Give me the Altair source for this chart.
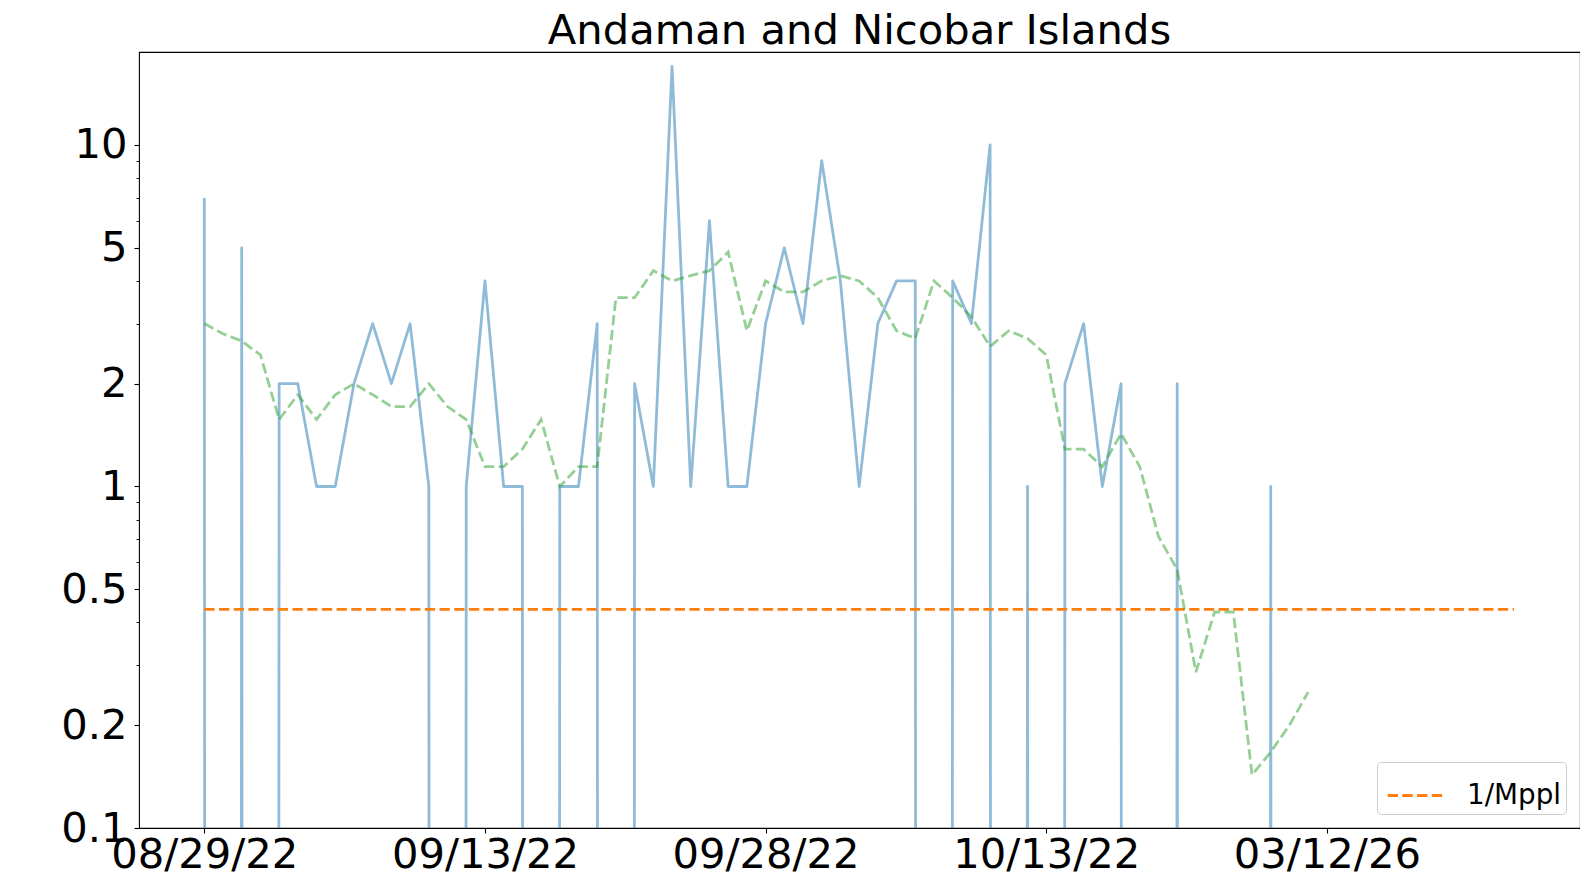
import altair as alt
import pandas as pd

# ---- data ----
day_index = list(range(60))
daily_cases = [7, 0, 5, 0, 2, 2, 1, 1, 2, 3,
               2, 3, 1, 0, 1, 4, 1, 1, 0, 1,
               1, 3, 0, 2, 1, 17, 1, 6, 1, 1,
               3, 5, 3, 9, 4, 1, 3, 4, 4, 0,
               4, 3, 10, 0, 1, 0, 2, 3, 1, 2,
               0, 0, 2, 0, 0, 0, 0, 1, 0, 0]
rolling_avg = [3.0, 2.8, 2.667, 2.429, 1.571, 1.857, 1.571, 1.857, 2.0, 1.857,
               1.714, 1.714, 2.0, 1.714, 1.571, 1.143, 1.143, 1.286, 1.571, 1.0,
               1.143, 1.143, 3.571, 3.571, 4.286, 4.0, 4.143, 4.286, 4.857, 2.857,
               4.0, 3.714, 3.714, 4.0, 4.143, 4.0, 3.571, 2.857, 2.714, 4.0,
               3.571, 3.143, 2.571, 2.857, 2.714, 2.429, 1.286, 1.286, 1.143, 1.429,
               1.143, 0.714, 0.571, 0.286, 0.429, 0.429, 0.143, 0.167, 0.2, 0.25]
threshold_days = [0, 70]
threshold_value = [0.437, 0.437]
threshold_label = ["1/Mppl", "1/Mppl"]

x_tick_days = [0, 15, 30, 45, 60]
x_tick_labels = ["08/29/22", "09/13/22", "09/28/22", "10/13/22", "03/12/26"]
y_major = [0.1, 0.2, 0.5, 1, 2, 5, 10]
y_minor = [0.3, 0.4, 0.6, 0.7, 0.8, 0.9, 3, 4, 6, 7, 8, 9]

df_daily = pd.DataFrame({"day": day_index, "cases": daily_cases})
df_avg = pd.DataFrame({"day": day_index, "avg": rolling_avg})
df_thr = pd.DataFrame({"day": threshold_days, "val": threshold_value, "label": threshold_label})

FONT = "DejaVu Sans"
LW = 2.78
DASH = [10.3, 4.4]

xscale = alt.Scale(domain=[-3.49, 73.53], nice=False, zero=False)
yscale = alt.Scale(type="log", domain=[0.1, 18.72], nice=False)

label_arr = "[" + ",".join("'%s'" % s for s in x_tick_labels) + "]"
xaxis = alt.Axis(values=x_tick_days, labelExpr=label_arr + "[round(datum.value/15)]",
                 title=None, tickSize=5, labelPadding=1, labelFontSize=41.67,
                 labelFont=FONT, labelColor="black", tickColor="black", tickWidth=1.1,
                 domain=False, grid=False, labelFlush=False, labelOverlap=False,
                 labelLimit=0)
yaxis_major = alt.Axis(values=y_major, format="~g", title=None, tickSize=5, labelPadding=7,
                       labelFontSize=41.67, labelFont=FONT, labelColor="black",
                       tickColor="black", tickWidth=1.1, domain=False, grid=False,
                       labelOverlap=False, labelFlush=False, orient="left", labelLimit=0)
yaxis_minor = alt.Axis(values=y_minor, labels=False, title=None, tickSize=3,
                       tickColor="black", tickWidth=0.9, domain=False, grid=False,
                       orient="left")

blue = alt.Chart(df_daily).transform_calculate(
    plotval="datum.cases > 0 ? datum.cases : 1e-100"
).mark_line(color="#1f77b4", opacity=0.5, strokeWidth=LW, clip=True,
            strokeJoin="round").encode(
    x=alt.X("day:Q", scale=xscale, axis=xaxis),
    y=alt.Y("plotval:Q", scale=yscale, axis=yaxis_major),
)

green = alt.Chart(df_avg).mark_line(color="#2ca02c", opacity=0.5, strokeWidth=LW,
                                    strokeDash=DASH, clip=True).encode(
    x=alt.X("day:Q", scale=xscale, axis=xaxis),
    y=alt.Y("avg:Q", scale=yscale, axis=yaxis_minor),
)

orange = alt.Chart(df_thr).mark_line(strokeWidth=LW, strokeDash=DASH, clip=True).encode(
    x=alt.X("day:Q", scale=xscale, axis=xaxis),
    y=alt.Y("val:Q", scale=yscale, axis=None),
    color=alt.Color("label:N",
                    scale=alt.Scale(domain=["1/Mppl"], range=["#ff7f0e"]),
                    legend=alt.Legend(title=None, orient="bottom-right", offset=14,
                                      symbolType="stroke", symbolStrokeWidth=LW,
                                      symbolDash=DASH, symbolSize=3090,
                                      symbolOffset=5,
                                      labelFontSize=27.8, labelFont=FONT,
                                      labelColor="black", labelOffset=22,
                                      padding=4, strokeColor="#cccccc",
                                      cornerRadius=4, fillColor="white")),
)

chart = alt.layer(blue, orange, green).resolve_axis(y="independent").properties(
    width=1441, height=776,
    title=alt.TitleParams("Andaman and Nicobar Islands", fontSize=41.67, font=FONT,
                          fontWeight="normal", color="black", anchor="middle",
                          frame="group", baseline="bottom", offset=-43),
    autosize=alt.AutoSizeParams(type="none"),
    padding={"left": 131, "top": 44, "right": 0, "bottom": 50},
    background="white",
).configure_view(stroke="black", strokeWidth=1.1)

chart.save("out.html", embed_options={"renderer": "svg", "actions": False})
